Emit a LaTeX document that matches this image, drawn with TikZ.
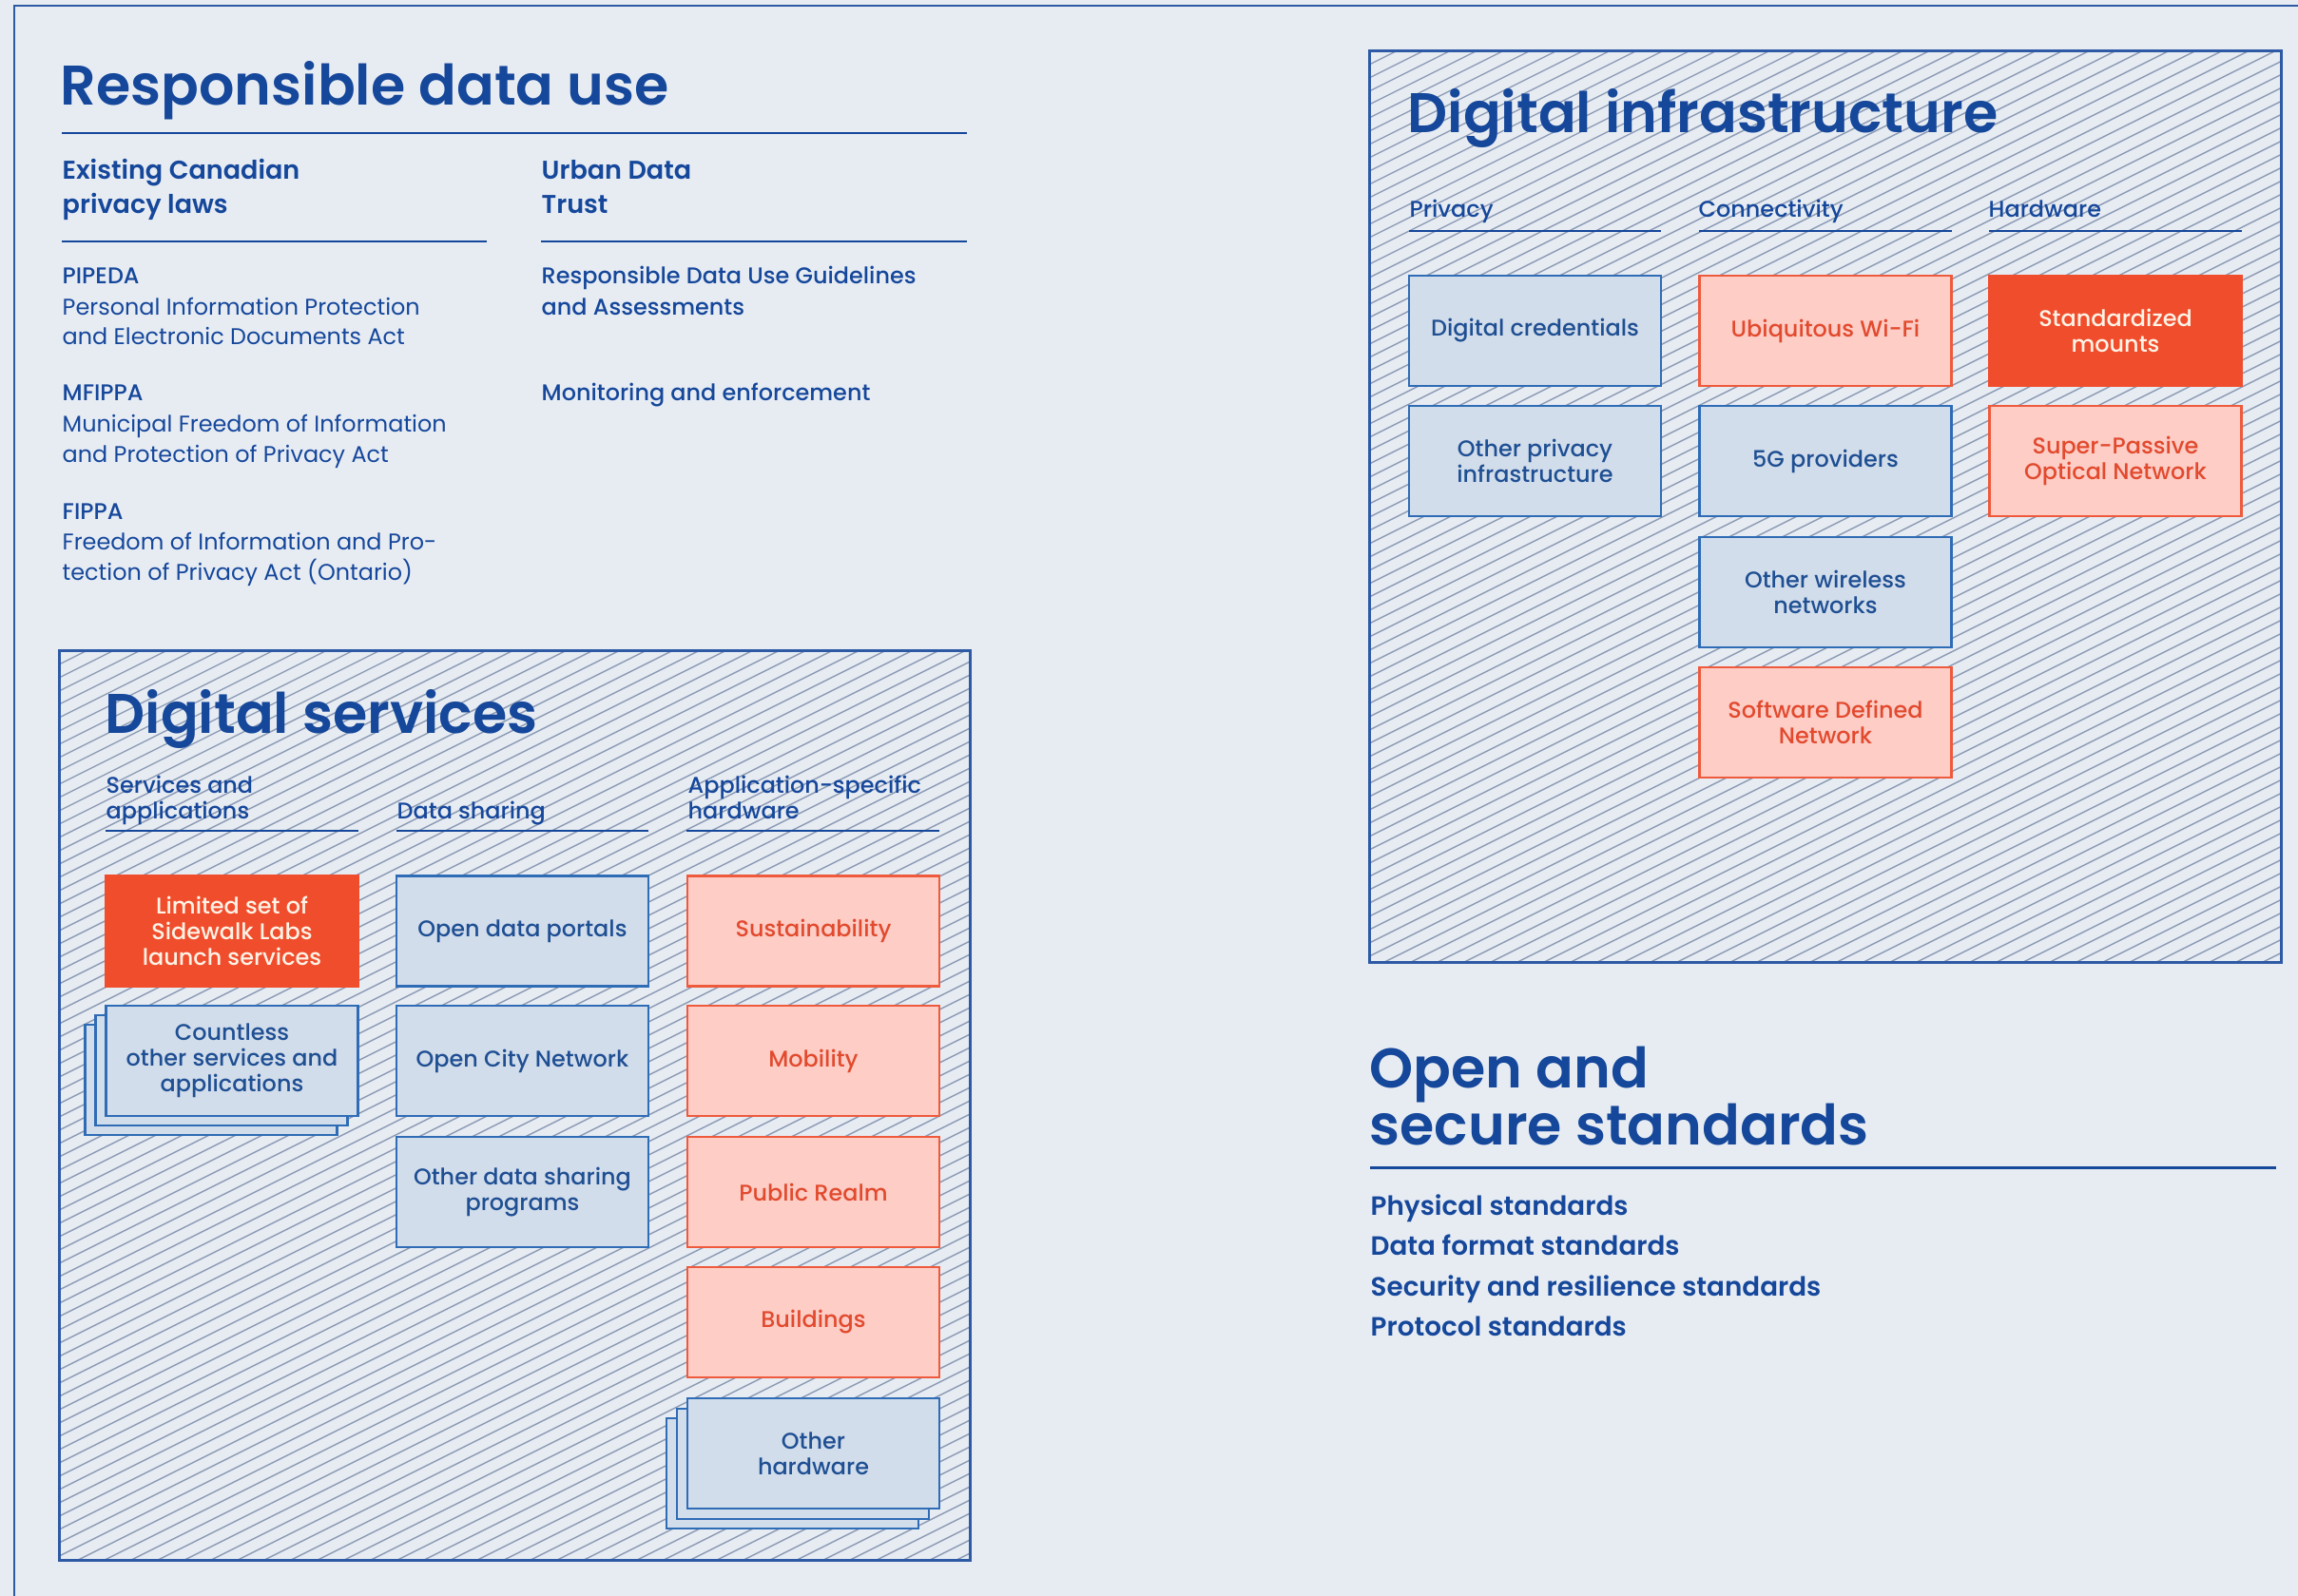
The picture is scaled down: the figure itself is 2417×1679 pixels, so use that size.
\documentclass[tikz,border=0pt]{standalone}
\usepackage{fontspec}
\setmainfont{Poppins}
\newfontfamily\semib{Poppins SemiBold}
\newfontfamily\medf{Poppins Medium}
\usetikzlibrary{calc}
\definecolor{bgc}{HTML}{E7ECF3}
\definecolor{navy}{HTML}{15479B}
\definecolor{frameblue}{HTML}{2E5AA5}
\definecolor{hatchc}{HTML}{8D9CB5}
\definecolor{bfill}{HTML}{D2DDEB}
\definecolor{bdraw}{HTML}{2F6CB6}
\definecolor{btext}{HTML}{1F4F93}
\definecolor{sfill}{HTML}{FDCDC6}
\definecolor{sdraw}{HTML}{EF5A3C}
\definecolor{stext}{HTML}{E24A2E}
\definecolor{rfill}{HTML}{F04D2D}
\definecolor{rtext}{HTML}{FFF3E6}
\begin{document}
\begin{tikzpicture}[x=0.01cm,y=-0.01cm,
  txt/.style={inner sep=0pt, anchor=base west, text=navy},
  bigtitle/.style={txt, font=\semib\fontsize{16.7pt}{17pt}\selectfont},
  subh/.style={txt, font=\semib\fontsize{7.7pt}{10pt}\selectfont},
  colh/.style={txt, font=\medf\fontsize{6.8pt}{7.7pt}\selectfont},
  body/.style={txt, font=\fontsize{6.8pt}{9pt}\selectfont},
  bodyb/.style={txt, font=\medf\fontsize{6.8pt}{9pt}\selectfont},
  stditem/.style={txt, font=\semib\fontsize{7.9pt}{9pt}\selectfont},
  rule/.style={draw=navy, line width=0.85pt},
  boxbase/.style={minimum width=2.65cm, minimum height=1.16cm, inner sep=0pt, align=center, line width=0.8pt, font=\medf\fontsize{6.8pt}{7.7pt}\selectfont},
  bluebox/.style={boxbase, fill=bfill, draw=bdraw, text=btext},
  salbox/.style={boxbase, fill=sfill, draw=sdraw, text=stext},
  redbox/.style={boxbase, fill=rfill, draw=rfill, text=rtext},
  hatchframe/.style={draw=frameblue, line width=0.8pt, inner sep=0pt,
    path picture={
      \foreach \hh in {0,14,...,1500}{
        \draw[hatchc, line width=0.4pt] ($(path picture bounding box.north west)+(0,\hh)$) -- ++(1000,-500);
      }
    }},
]
% background
\fill[bgc] (0,0) rectangle (2417,1679);
\useasboundingbox (0,0) rectangle (2417,1679);
\draw[frameblue, line width=0.85pt] (15,1679) -- (15,6) -- (2417,6);

% ---------------- Responsible data use
\node[bigtitle] (rdu) at (63,111) {Responsible data use};
\draw[rule] (65,140) -- (1017,140);
\node[subh] (ecp1) at (65,189) {Existing Canadian};
\node[subh] (ecp2) at (65,225) {privacy laws};
\node[subh] (udt1) at (569,189) {Urban Data};
\node[subh] (udt2) at (569,225) {Trust};
\draw[rule] (65,254) -- (512,254);
\draw[rule] (569,254) -- (1017,254);

\node[bodyb] (pip) at (65,299) {PIPEDA};
\node[body] (pip1) at (65,331) {Personal Information Protection};
\node[body] (pip2) at (65,363) {and Electronic Documents Act};
\node[bodyb] (mfi) at (65,422) {MFIPPA};
\node[body] (mfi1) at (65,454) {Municipal Freedom of Information};
\node[body] (mfi2) at (65,486) {and Protection of Privacy Act};
\node[bodyb] (fip) at (65,546) {FIPPA};
\node[body] (fip1) at (65,578) {Freedom of Information and Pro-};
\node[body] (fip2) at (65,610) {tection of Privacy Act (Ontario)};

\node[bodyb] (rdg1) at (569,299) {Responsible Data Use Guidelines};
\node[bodyb] (rdg2) at (569,331) {and Assessments};
\node[bodyb] (mon) at (569,422) {Monitoring and enforcement};

% ---------------- Digital infrastructure
\node[hatchframe, minimum width=9.58cm, minimum height=9.58cm] (infra) at (1920,533) {};
\node[bigtitle] (ditl) at (1480,140) {Digital infrastructure};
\node[colh] (hpriv) at (1482,229) {Privacy};
\node[colh] (hconn) at (1786,229) {Connectivity};
\node[colh] (hhard) at (2091,229) {Hardware};
\draw[rule, line width=0.7pt] (1482,243) -- (1747,243);
\draw[rule, line width=0.7pt] (1787,243) -- (2053,243);
\draw[rule, line width=0.7pt] (2092,243) -- (2358,243);

\node[bluebox] (dcred) at (1614.5,348) {Digital credentials};
\node[bluebox] (oprivi) at (1614.5,485) {Other privacy\\infrastructure};
\node[salbox] (wifi) at (1920,348) {Ubiquitous Wi-Fi};
\node[bluebox] (fiveg) at (1920,485) {5G providers};
\node[bluebox] (owire) at (1920,623) {Other wireless\\networks};
\node[salbox] (sdn) at (1920,760) {Software Defined\\Network};
\node[redbox] (mounts) at (2225,348) {Standardized\\mounts};
\node[salbox] (spon) at (2225,485) {Super-Passive\\Optical Network};

% ---------------- Digital services
\node[hatchframe, minimum width=9.57cm, minimum height=9.56cm] (serv) at (541.5,1163) {};
\node[bigtitle] (dstl) at (110,771) {Digital services};
\node[colh] (hsa1) at (111,834.5) {Services and};
\node[colh] (hsa2) at (111,861) {applications};
\node[colh] (hds) at (417,861) {Data sharing};
\node[colh] (hah1) at (723,834.5) {Application-specific};
\node[colh] (hah2) at (723,861) {hardware};
\draw[rule, line width=0.7pt] (111,874) -- (377,874);
\draw[rule, line width=0.7pt] (417,874) -- (682,874);
\draw[rule, line width=0.7pt] (722,874) -- (988,874);

\node[redbox] (limited) at (244,979.5) {Limited set of\\Sidewalk Labs\\launch services};
\node[bluebox] (cnt3) at (222,1136) {};
\node[bluebox] (cnt2) at (233,1126) {};
\node[bluebox] (cnt1) at (244,1116) {Countless\\other services and\\applications};

\node[bluebox] (odp) at (549.5,979.5) {Open data portals};
\node[bluebox] (ocn) at (549.5,1116) {Open City Network};
\node[bluebox] (ods) at (549.5,1254) {Other data sharing\\programs};

\node[salbox] (sust) at (855.5,979.5) {Sustainability};
\node[salbox] (mob) at (855.5,1116) {Mobility};
\node[salbox] (pub) at (855.5,1254) {Public Realm};
\node[salbox] (bld) at (855.5,1391) {Buildings};
\node[bluebox] (oh3) at (833.5,1550) {};
\node[bluebox] (oh2) at (844.5,1540) {};
\node[bluebox] (oh1) at (855.5,1529) {Other\\hardware};

% ---------------- Open and secure standards
\node[bigtitle] (os1) at (1440,1144) {Open and};
\node[bigtitle] (os2) at (1440,1204) {secure standards};
\draw[rule] (1441,1228) -- (2394,1228);
\node[stditem] (st1) at (1441,1278) {Physical standards};
\node[stditem] (st2) at (1441,1320) {Data format standards};
\node[stditem] (st3) at (1441,1363) {Security and resilience standards};
\node[stditem] (st4) at (1441,1405) {Protocol standards};
\end{tikzpicture}
\end{document}
